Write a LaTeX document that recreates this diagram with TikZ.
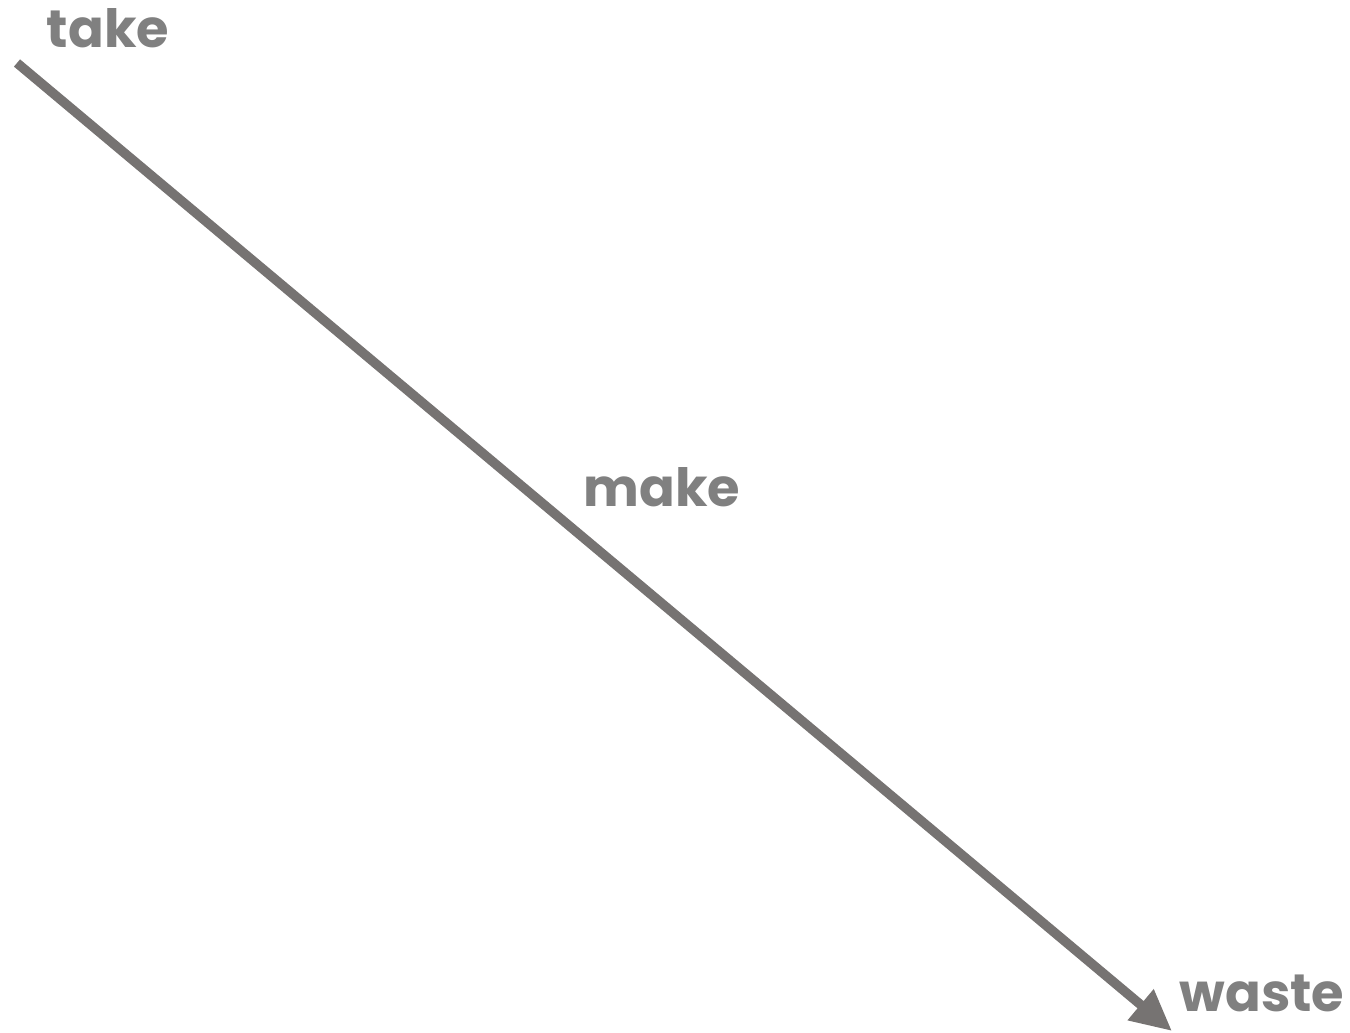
\documentclass[tikz,border=0pt]{standalone}
\usepackage{fontspec}
\setmainfont{Poppins}
\usepackage{tikz}
\usetikzlibrary{arrows.meta}
\definecolor{flowgray}{HTML}{767372}
\definecolor{labelgray}{HTML}{808080}

\begin{document}
\begin{tikzpicture}[
  x=0.02cm, y=-0.02cm,
  lbl/.style={text=labelgray, font=\fontsize{30}{32}\selectfont\bfseries, inner sep=0pt},
  flow/.style={-{Triangle[length=0.82cm, width=0.76cm]}, line width=0.19cm, flowgray},
]
  \useasboundingbox (0,0) rectangle (1350,1033);
  \coordinate (src) at (17,63);
  \coordinate (dst) at (1172,1031);
  \node[lbl] (take) at (108,28) {take};
  \node[lbl] (make) at (662,487) {make};
  \node[lbl] (waste) at (1262,993) {waste};
  \draw[flow] (src) -- (dst);
\end{tikzpicture}
\end{document}
